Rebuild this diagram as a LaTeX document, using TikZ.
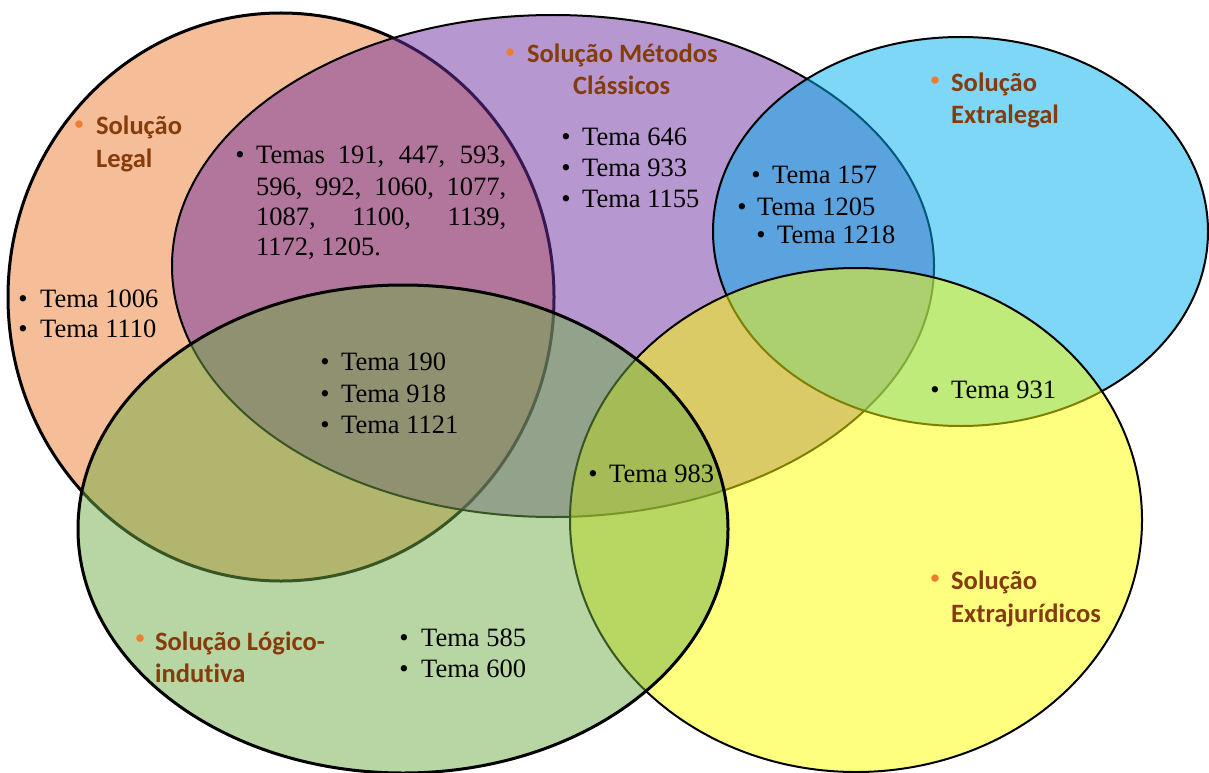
\documentclass[tikz,border=0pt]{standalone}
\usepackage{fontspec}
\setmainfont{Liberation Serif}
\newfontfamily\lblfont[Ligatures=NoCommon]{Carlito}
\definecolor{cOrange}{HTML}{ED7D31}
\definecolor{cPurple}{HTML}{7030A0}
\definecolor{cBlue}{HTML}{00B0F0}
\definecolor{cYellow}{HTML}{FFFF00}
\definecolor{cGreen}{HTML}{70AD47}
\definecolor{lblbrown}{HTML}{843C0C}
\begin{document}
\begin{tikzpicture}[x=1pt,y=-1pt,
  vset/.style={fill opacity=0.5, draw=black},
  thick3/.style={line width=3pt},
  thick2/.style={line width=2pt},
  body/.style={font=\fontsize{26.5}{31}\selectfont, inner sep=0pt, anchor=base west},
  bdot/.style={font=\fontsize{26.5}{31}\selectfont, inner sep=0pt, anchor=base},
  lbl/.style={font=\lblfont\bfseries\fontsize{26.5}{32}\selectfont, text=lblbrown, inner sep=0pt, anchor=base west},
  ldot/.style={font=\lblfont\fontsize{21}{25}\selectfont, text=cOrange, inner sep=0pt, anchor=center}]
\useasboundingbox (0,0) rectangle (1209,773);
% sets
\draw[vset, thick3, fill=cOrange] (281,297) ellipse [x radius=273pt, y radius=284pt];
\draw[vset, thick2, fill=cPurple] (553,266) ellipse [x radius=381pt, y radius=251pt];
\draw[vset, thick2, fill=cBlue] (960.5,231.5) ellipse [x radius=247.5pt, y radius=194.5pt];
\draw[vset, thick2, fill=cYellow] (856,520) ellipse [x radius=286pt, y radius=252pt];
\draw[vset, thick3, fill=cGreen] (403,529) ellipse [x radius=325pt, y radius=244pt];
% set labels
\node[ldot] (dLegal) at (79,126) {•};
\node[lbl] (tLegal1) at (96,135) {Solução};
\node[lbl] (tLegal2) at (96,167) {Legal};
\node[ldot] (dMet) at (510,54) {•};
\node[lbl] (tMet1) at (527,63) {Solução Métodos};
\node[lbl] (tMet2) at (573,95) {Clássicos};
\node[ldot] (dExl) at (935,82) {•};
\node[lbl] (tExl1) at (951,92) {Solução};
\node[lbl] (tExl2) at (951,124) {Extralegal};
\node[ldot] (dExj) at (935,580) {•};
\node[lbl] (tExj1) at (951,589) {Solução};
\node[lbl] (tExj2) at (951,622) {Extrajurídicos};
\node[ldot] (dLog) at (140,640) {•};
\node[lbl] (tLog1) at (155,650) {Solução Lógico-};
\node[lbl] (tLog2) at (155,682) {indutiva};
% items
\node[bdot] (b1) at (240,163) {•};
\node[body] (m1) at (256,163) {\makebox[250pt][s]{Temas 191, 447, 593,}};
\node[body] (m2) at (256,195) {\makebox[250pt][s]{596, 992, 1060, 1077,}};
\node[body] (m3) at (256,225) {\makebox[250pt][s]{1087, 1100, 1139,}};
\node[body] (m4) at (256,255) {1172, 1205.};
\node[bdot] (b2) at (566,146) {•};
\node[body] (p1) at (582,146) {Tema 646};
\node[bdot] (b3) at (566,176) {•};
\node[body] (p2) at (582,176) {Tema 933};
\node[bdot] (b4) at (566,207) {•};
\node[body] (p3) at (582,207) {Tema 1155};
\node[bdot] (b5) at (756,183) {•};
\node[body] (q1) at (772,183) {Tema 157};
\node[bdot] (b6) at (742,215) {•};
\node[body] (q2) at (757,215) {Tema 1205};
\node[bdot] (b7) at (761,243) {•};
\node[body] (q3) at (777,243) {Tema 1218};
\node[bdot] (b8) at (23,307) {•};
\node[body] (r1) at (40,307) {Tema 1006};
\node[bdot] (b9) at (23,337) {•};
\node[body] (r2) at (40,337) {Tema 1110};
\node[bdot] (b10) at (325,370) {•};
\node[body] (s1) at (341,370) {Tema 190};
\node[bdot] (b11) at (325,402) {•};
\node[body] (s2) at (341,402) {Tema 918};
\node[bdot] (b12) at (325,433) {•};
\node[body] (s3) at (341,433) {Tema 1121};
\node[bdot] (b13) at (593,482) {•};
\node[body] (t1) at (609,482) {Tema 983};
\node[bdot] (b14) at (935,398) {•};
\node[body] (u1) at (951,398) {Tema 931};
\node[bdot] (b15) at (404,646) {•};
\node[body] (v1) at (421,646) {Tema 585};
\node[bdot] (b16) at (404,677) {•};
\node[body] (v2) at (421,677) {Tema 600};
\end{tikzpicture}
\end{document}
